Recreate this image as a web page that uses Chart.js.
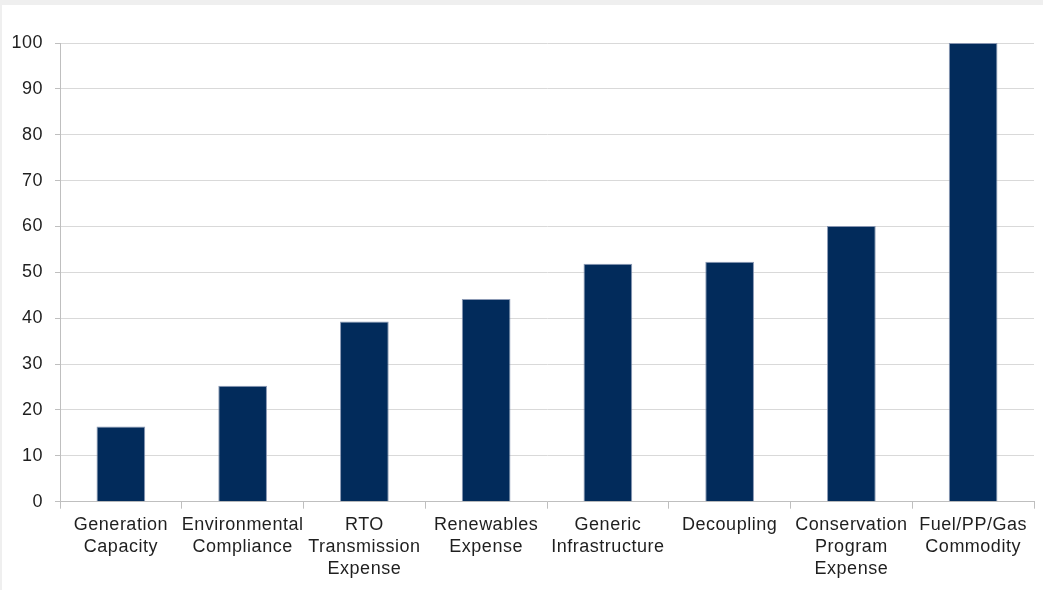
<!DOCTYPE html>
<html>
<head>
<meta charset="utf-8">
<script src="https://cdn.jsdelivr.net/npm/chart.js@4/dist/chart.umd.min.js"></script>
<style>
  html, body { margin: 0; padding: 0; background: #efefef; width: 1043px; height: 590px; overflow: hidden; }
  #frame { position: absolute; left: 2px; top: 5px; width: 1041px; height: 585px; background: #ffffff; }
</style>
</head>
<body>
<div id="frame"><canvas id="chart"></canvas></div>
<script>
// Rate mechanism categories (wrapped into display lines)
const categories = [
  ['Generation', 'Capacity'],
  ['Environmental', 'Compliance'],
  ['RTO', 'Transmission', 'Expense'],
  ['Renewables', 'Expense'],
  ['Generic', 'Infrastructure'],
  ['Decoupling'],
  ['Conservation', 'Program', 'Expense'],
  ['Fuel/PP/Gas', 'Commodity']
];

// Value per category
const values = [16.4, 25.3, 39.3, 44.2, 51.9, 52.3, 60.1, 100];

// Value axis range
const yMin = 0;
const yMax = 100;
const yStep = 10;

const FONT = { family: '"Liberation Sans", Arial, sans-serif', size: 18 };

// Slightly looser letter spacing for all axis text
const spacing = {
  id: 'letterSpacing',
  beforeUpdate(chart) { chart.ctx.letterSpacing = '0.5px'; },
  beforeDraw(chart) { chart.ctx.letterSpacing = '0.5px'; }
};

new Chart(document.getElementById('chart'), {
  type: 'bar',
  data: {
    labels: categories,
    datasets: [{
      data: values,
      backgroundColor: '#022b5b',
      borderColor: 'rgba(120, 136, 168, 0.85)',
      borderWidth: 1,
      categoryPercentage: 1.0,
      barPercentage: 0.4
    }]
  },
  options: {
    responsive: true,
    maintainAspectRatio: false,
    animation: false,
    layout: { padding: { top: 38, right: 9, bottom: 0, left: 0 } },
    plugins: {
      legend: { display: false },
      tooltip: { enabled: false }
    },
    scales: {
      x: {
        grid: {
          drawOnChartArea: false,
          drawTicks: true,
          tickLength: 7,
          color: '#bfbfbf'
        },
        border: { color: '#bfbfbf', width: 1 },
        ticks: {
          color: '#1f1f1f',
          font: { ...FONT, lineHeight: 1.24 },
          padding: 5,
          maxRotation: 0,
          autoSkip: false
        },
        afterFit: (scale) => { scale.height = 88.3; }
      },
      y: {
        min: yMin,
        max: yMax,
        grid: {
          color: '#d9d9d9',
          tickLength: 5,
          tickColor: '#bfbfbf'
        },
        border: { color: '#bfbfbf', width: 1 },
        ticks: {
          stepSize: yStep,
          color: '#1f1f1f',
          font: FONT,
          padding: 12
        },
        afterFit: (scale) => { scale.width = 58; }
      }
    }
  },
  plugins: [spacing]
});
</script>
</body>
</html>
